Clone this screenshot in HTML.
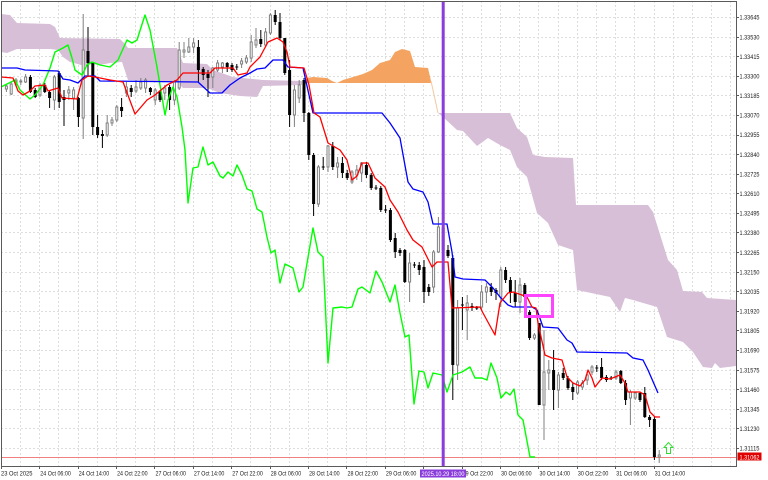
<!DOCTYPE html>
<html><head><meta charset="utf-8"><style>html,body{margin:0;padding:0;background:#fff;overflow:hidden}svg{display:block}text{font-family:"Liberation Sans",sans-serif;font-size:6px;fill:#1a1a1a}</style></head>
<body>
<svg width="768" height="480" viewBox="0 0 768 480" xmlns="http://www.w3.org/2000/svg">
<rect width="768" height="480" fill="#fff"/>
<!-- grid -->
<path fill="none" stroke="#dedede" stroke-width="1" stroke-dasharray="2 2" d="M1 17.5H736M1 37.5H736M1 56.5H736M1 76.5H736M1 95.5H736M1 115.5H736M1 135.5H736M1 154.5H736M1 174.5H736M1 193.5H736M1 213.5H736M1 232.5H736M1 252.5H736M1 272.5H736M1 291.5H736M1 311.5H736M1 330.5H736M1 350.5H736M1 370.5H736M1 389.5H736M1 409.5H736M1 428.5H736M1 448.5H736
M20.5 1V466M39.5 1V466M58.5 1V466M78.5 1V466M97.5 1V466M116.5 1V466M135.5 1V466M154.5 1V466M174.5 1V466M193.5 1V466M212.5 1V466M231.5 1V466M250.5 1V466M270.5 1V466M289.5 1V466M308.5 1V466M327.5 1V466M346.5 1V466M366.5 1V466M385.5 1V466M404.5 1V466M423.5 1V466M442.5 1V466M462.5 1V466M481.5 1V466M500.5 1V466M519.5 1V466M538.5 1V466M558.5 1V466M577.5 1V466M596.5 1V466M615.5 1V466M634.5 1V466M654.5 1V466M673.5 1V466M692.5 1V466M711.5 1V466M730.5 1V466"/>
<!-- clouds -->
<path fill="#d8bfd8" d="M1 14L10 15L17 23L50 24L55 27L60 38L120 39L125 44L128 48L177 48L183 63L207 64L213 70L233 77L263 80L302 81L302 85L263 86L257 97L240 96L220 93L207 88L183 88L177 82L128 80L122 62L110 63L100 65L92 64L85 66L70 62L63 57L58 50L50 49L17 49L7 53L1 52Z"/>
<path fill="#f4a460" d="M302 83L307 78L313 77L327 78L332 81L337 83L343 80L353 77L363 74L372 70L380 63L390 60L395 52L402 49L410 51L415 67L428 68L431 81L431 83Z"/>
<path fill="none" stroke="#f6c9a2" stroke-width="1" d="M431 81L438 113"/>
<path fill="#d8bfd8" d="M438 113L510 113L517 128L527 137L533 155L545 157L573 158L576 205L648 205L653 212L668 260L677 270L683 291L702 292L707 298L736 300L736 366L720 368L715 363L712 368L703 367L693 352L683 342L667 337L657 307L633 300L625 298L620 312L610 297L577 290L573 250L558 245L548 223L537 213L527 177L517 167L510 150L500 145L488 138L477 146L463 131L457 130L443 117Z"/>
<!-- current price line -->
<path stroke="#f08080" stroke-width="1" d="M1 457.5H736"/>
<!-- wicks -->
<path fill="none" stroke="#000" stroke-width="1" d="M30.4 75V93M35.2 88V98M44.8 83V93M49.6 90V108M59.2 71V108M64 90V126M78.4 97V127M88 27V77M92.8 62V135M97.6 115V138M102.4 130V148M121.6 98V117M131.2 85V97M150.4 87V95M160 90V102M169.6 85V110M198.4 40V82M203.2 67V80M208 70V97M227.2 62V72M232 63V72M236.8 64V70M260.8 30V47M275.2 10V25M280 13V40M284.8 38V75M289.6 60V127M304 78V122M308.8 112V160M313.6 153V216M323.2 157V170M332.8 142V170M342.4 157V178M347.2 170V180M366.4 162V178M371.2 173V190M376 185V190M380.8 186V212M385.6 205V213M390.4 208V242M395.2 233V258M400 248V256M404.8 249V283M414.4 262V268M419.2 262V275M424 260V303M428.8 284V296M448 245V258M452.8 255V400M462.4 297V330M472 303V311M476.8 306V310M491.2 283V296M496 288V300M505.6 267V283M510.4 277V303M515.2 280V307M524.8 283V300M529.6 310V340M539.2 323V405M553.6 350V410M563.2 368V380M568 376V390M572.8 383V400M596.8 365V372M601.6 358V380M606.4 375V382M611.2 376V380M620.8 370V384M625.6 380V405M640 392V402M644.8 387V418M649.6 415V427M654.4 417V460"/>
<path fill="none" stroke="#808080" stroke-width="1" d="M6.4 84V92M11.2 82V95M16 78V86M20.8 79V85M25.6 74V83M40 83V97M54.4 75V110M68.8 86V100M73.6 87V110M83.2 14V139M107.2 115V137M112 117V126M116.8 105V122M126.4 82V97M136 80V93M140.8 78V90M145.6 78V93M155.2 88V105M164.8 85V100M174.4 80V105M179.2 42V90M184 42V58M188.8 38V53M193.6 38V53M212.8 67V88M217.6 60V72M222.4 62V73M241.6 58V68M246.4 55V64M251.2 35V62M256 28V48M265.6 28V47M270.4 13V35M294.4 85V127M299.2 80V103M318.4 165V207M328 145V172M337.6 157V178M352 170V184M356.8 165V180M361.6 162V182M409.6 253V302M433.6 250V293M438.4 217V253M443.2 225V252M457.6 300V380M467.2 295V340M481.6 285V310M486.4 283V303M500.8 267V307M520 278V313M534.4 333V340M544 330V440M548.8 360V390M558.4 372V408M577.6 380V395M582.4 380V390M587.2 372V385M592 365V375M616 370V380M630.4 390V425M635.2 392V400M659.2 450V463"/>
<!-- black bodies -->
<path fill="#000" d="M28.9 77h3V92h-3zM33.7 90h3V97h-3zM43.3 85h3V92h-3zM48.1 92h3V98h-3zM57.7 73h3V102h-3zM62.5 97h3V100h-3zM76.9 98h3V117h-3zM86.5 51h3V63h-3zM91.3 63h3V127h-3zM96.1 127h3V135h-3zM100.9 134h3V136h-3zM120.1 107h3V111h-3zM129.7 88h3V92h-3zM148.9 88h3V92h-3zM158.5 92h3V100h-3zM168.1 87h3V100h-3zM196.9 47h3V70h-3zM201.7 69h3V75h-3zM206.5 74h3V78h-3zM225.7 63h3V67h-3zM230.5 65h3V70h-3zM235.3 66.5h3V67.5h-3zM259.3 39h3V44h-3zM273.7 15h3V22h-3zM278.5 22h3V38h-3zM283.3 38h3V73h-3zM288.1 70h3V115h-3zM302.5 80h3V113h-3zM307.3 113h3V155h-3zM312.1 155h3V204h-3zM321.7 166.5h3V167.5h-3zM331.3 146h3V167h-3zM340.9 163h3V173h-3zM345.7 173h3V178h-3zM364.9 165h3V175h-3zM369.7 175h3V188h-3zM374.5 187.5h3V188.5h-3zM379.3 188h3V210h-3zM384.1 209.5h3V210.5h-3zM388.9 210h3V240h-3zM393.7 238h3V252h-3zM398.5 250h3V253h-3zM403.3 250h3V282h-3zM412.9 264.5h3V265.5h-3zM417.7 265h3V270h-3zM422.5 267h3V292h-3zM427.3 287h3V292h-3zM446.5 250h3V256h-3zM451.3 258h3V365h-3zM460.9 304.5h3V305.5h-3zM470.5 306h3V308h-3zM475.3 307.5h3V308.5h-3zM489.7 287h3V292h-3zM494.5 290h3V293h-3zM504.1 270h3V280h-3zM508.9 280h3V293h-3zM513.7 293h3V302h-3zM523.3 285h3V297h-3zM528.1 312h3V338h-3zM537.7 323h3V405h-3zM552.1 370h3V390h-3zM561.7 373h3V378h-3zM566.5 378h3V388h-3zM571.3 387h3V392h-3zM595.3 367.5h3V368.5h-3zM600.1 367h3V378h-3zM604.9 377h3V380h-3zM609.7 377.5h3V378.5h-3zM619.3 371h3V383h-3zM624.1 383h3V400h-3zM638.5 393h3V400h-3zM643.3 393h3V417h-3zM648.1 417h3V420h-3zM652.9 419h3V457h-3z"/>
<!-- white bodies -->
<path fill="#fff" stroke="#808080" stroke-width="1" d="M5.4 86h2V89h-2zM10.2 84h2V94h-2zM15 80h2V83h-2zM19.8 81h2V82h-2zM24.6 77h2V82h-2zM39 85h2V95h-2zM53.4 77h2V100h-2zM67.8 90h2V93h-2zM72.6 90h2V98h-2zM82.2 50h2V118h-2zM106.2 123h2V135h-2zM111 120h2V123h-2zM115.8 107h2V120h-2zM125.4 87h2V93h-2zM135 87h2V91h-2zM139.8 82h2V88h-2zM144.6 80h2V88h-2zM154.2 90h2V100h-2zM163.8 88h2V93h-2zM173.4 82h2V100h-2zM178.2 50h2V88h-2zM183 50h2V52h-2zM187.8 47h2V52h-2zM192.6 43h2V47h-2zM211.8 68h2V77h-2zM216.6 63h2V70h-2zM221.4 63h2V67h-2zM240.6 61h2V64h-2zM245.4 58h2V62h-2zM250.2 42h2V58h-2zM255 40h2V45h-2zM264.6 32h2V45h-2zM269.4 15h2V33h-2zM293.4 90h2V115h-2zM298.2 85h2V98h-2zM317.4 167h2V204h-2zM327 146h2V167h-2zM336.6 163h2V167h-2zM351 172h2V182h-2zM355.8 170h2V175h-2zM360.6 163h2V173h-2zM408.6 263h2V282h-2zM432.6 252h2V287h-2zM437.4 227h2V252h-2zM442.2 228h2V250h-2zM456.6 308h2V365h-2zM466.2 303h2V310h-2zM480.6 292h2V307h-2zM485.4 287h2V292h-2zM499.8 270h2V297h-2zM519 285h2V302h-2zM533.4 335h2V338h-2zM543 372h2V405h-2zM547.8 370h2V373h-2zM557.4 375h2V390h-2zM576.6 382h2V393h-2zM581.4 383h2V387h-2zM586.2 375h2V380h-2zM591 367h2V372h-2zM615 372h2V378h-2zM629.4 392h2V398h-2zM634.2 393h2V398h-2zM658.2 455h2V457h-2z"/>
<!-- ichimoku lines -->
<polyline fill="none" stroke="#00ff00" stroke-width="1.4" stroke-linejoin="round" points="1,87 15,80 20,90 30,99 35,95 43,85 50,68 55,52 63,48 68,45 72,58 75,70 82,75 87,65 92,62 100,65 110,67 118,60 127,40 132,43 137,40 145,15 150,30 157,67 163,103 165,115 168,100 173,87 177,97 182,127 185,150 188,203 193,168 198,167 203,147 208,165 213,162 220,176 223,178 228,172 233,176 237,165 242,175 247,189 252,191 257,209 262,212 267,237 271,253 275,250 280,283 285,264 293,268 299,292 303,287 313,228 318,252 323,257 328,363 333,308 342,307 347,308 352,307 358,289 362,287 370,293 376,271 382,282 390,302 395,285 400,313 405,337 409,335 414,404 419,371 424,372 428,388 433,373 442,375 447,392 453,375 462,372 470,367 475,378 482,378 487,380 491,363 497,378 501,398 506,392 510,395 514,389 518,415 523,420 530,457 535,457"/>
<polyline fill="none" stroke="#0000ff" stroke-width="1.3" stroke-linejoin="round" points="1,68 17,68 25,70 58,71 63,79 70,80 78,83 85,76 95,76 100,81 198,82 210,93 222,93 230,85 240,78 250,73 257,69 265,68 273,60 283,60 288,67 303,68 313,113 382,113 390,123 400,138 408,182 413,189 423,192 428,202 433,224 447,224 452,252 455,277 463,279 485,280 493,288 500,297 508,305 513,307 532,307 537,310 543,327 558,328 567,340 572,343 577,352 627,353 633,358 643,360 648,370 658,393"/>
<polyline fill="none" stroke="#ff0000" stroke-width="1.3" stroke-linejoin="round" points="1,77 13,78 18,91 23,95 30,91 35,86 45,85 48,91 58,88 62,98 77,99 82,80 88,76 95,77 110,80 123,82 135,114 147,100 155,95 167,85 177,80 183,73 210,73 215,68 233,68 238,75 247,73 250,67 260,57 268,42 277,38 283,42 287,52 290,67 304,68 309,85 314,113 320,117 328,143 340,150 347,160 352,180 357,176 362,163 368,163 375,178 385,187 390,200 398,212 407,230 413,240 422,247 427,257 432,267 437,262 448,262 452,308 480,307 483,313 495,335 500,303 508,293 513,292 522,295 527,297 532,307 536,308 538,323 545,355 552,358 562,360 567,377 573,383 580,386 585,380 588,370 592,378 595,387 602,378 610,379 620,375 625,383 628,392 640,392 645,395 650,412 655,417 660,417"/>
<!-- vertical line -->
<rect x="441.7" y="1" width="3" height="466" fill="#8a3ddb"/>
<!-- magenta box -->
<rect x="525.5" y="295.5" width="27" height="21" fill="none" stroke="#ff44ff" stroke-width="3"/>
<!-- arrow -->
<path fill="#fff" stroke="#33dd33" stroke-width="1" d="M668.5 442.5L664 447.5H666.5V453.5H670.5V447.5H673Z"/>
<!-- frame -->
<path fill="none" stroke="#5a5a5a" stroke-width="1" d="M1.5 1.5H736.5V466.5H1.5Z"/>
<!-- ticks -->
<path stroke="#5a5a5a" stroke-width="1" d="M736 17.5h3M736 37.5h3M736 56.5h3M736 76.5h3M736 95.5h3M736 115.5h3M736 135.5h3M736 154.5h3M736 174.5h3M736 193.5h3M736 213.5h3M736 232.5h3M736 252.5h3M736 272.5h3M736 291.5h3M736 311.5h3M736 330.5h3M736 350.5h3M736 370.5h3M736 389.5h3M736 409.5h3M736 428.5h3M736 448.5h3
M1.5 466v3M39.5 466v3M78.5 466v3M116.5 466v3M154.5 466v3M193.5 466v3M231.5 466v3M270.5 466v3M308.5 466v3M346.5 466v3M385.5 466v3M423.5 466v3M462.5 466v3M500.5 466v3M538.5 466v3M577.5 466v3M615.5 466v3M654.5 466v3"/>
<!-- price labels -->
<text x="739.5" y="19.7" textLength="20" lengthAdjust="spacingAndGlyphs">1.33645</text>
<text x="739.5" y="39.3" textLength="20" lengthAdjust="spacingAndGlyphs">1.33530</text>
<text x="739.5" y="58.9" textLength="20" lengthAdjust="spacingAndGlyphs">1.33415</text>
<text x="739.5" y="78.5" textLength="20" lengthAdjust="spacingAndGlyphs">1.33300</text>
<text x="739.5" y="98.1" textLength="20" lengthAdjust="spacingAndGlyphs">1.33185</text>
<text x="739.5" y="117.7" textLength="20" lengthAdjust="spacingAndGlyphs">1.33070</text>
<text x="739.5" y="137.2" textLength="20" lengthAdjust="spacingAndGlyphs">1.32955</text>
<text x="739.5" y="156.8" textLength="20" lengthAdjust="spacingAndGlyphs">1.32840</text>
<text x="739.5" y="176.4" textLength="20" lengthAdjust="spacingAndGlyphs">1.32725</text>
<text x="739.5" y="196" textLength="20" lengthAdjust="spacingAndGlyphs">1.32610</text>
<text x="739.5" y="215.6" textLength="20" lengthAdjust="spacingAndGlyphs">1.32495</text>
<text x="739.5" y="235.2" textLength="20" lengthAdjust="spacingAndGlyphs">1.32380</text>
<text x="739.5" y="254.8" textLength="20" lengthAdjust="spacingAndGlyphs">1.32265</text>
<text x="739.5" y="274.4" textLength="20" lengthAdjust="spacingAndGlyphs">1.32150</text>
<text x="739.5" y="294" textLength="20" lengthAdjust="spacingAndGlyphs">1.32035</text>
<text x="739.5" y="313.6" textLength="20" lengthAdjust="spacingAndGlyphs">1.31920</text>
<text x="739.5" y="333.1" textLength="20" lengthAdjust="spacingAndGlyphs">1.31805</text>
<text x="739.5" y="352.7" textLength="20" lengthAdjust="spacingAndGlyphs">1.31690</text>
<text x="739.5" y="372.3" textLength="20" lengthAdjust="spacingAndGlyphs">1.31575</text>
<text x="739.5" y="391.9" textLength="20" lengthAdjust="spacingAndGlyphs">1.31460</text>
<text x="739.5" y="411.5" textLength="20" lengthAdjust="spacingAndGlyphs">1.31345</text>
<text x="739.5" y="431.1" textLength="20" lengthAdjust="spacingAndGlyphs">1.31230</text>
<text x="739.5" y="450.7" textLength="20" lengthAdjust="spacingAndGlyphs">1.31115</text>
<rect x="737.5" y="452.5" width="24" height="8" fill="#e00000"/>
<text x="739.5" y="459.3" textLength="20" lengthAdjust="spacingAndGlyphs" style="fill:#fff">1.31062</text>
<!-- time labels -->
<text x="1" y="475.5" textLength="31.5" lengthAdjust="spacingAndGlyphs">23 Oct 2025</text>
<text x="40.3" y="475.5" textLength="30.5" lengthAdjust="spacingAndGlyphs">24 Oct 06:00</text>
<text x="78.7" y="475.5" textLength="30.5" lengthAdjust="spacingAndGlyphs">24 Oct 14:00</text>
<text x="117.1" y="475.5" textLength="30.5" lengthAdjust="spacingAndGlyphs">24 Oct 22:00</text>
<text x="155.5" y="475.5" textLength="30.5" lengthAdjust="spacingAndGlyphs">27 Oct 06:00</text>
<text x="193.9" y="475.5" textLength="30.5" lengthAdjust="spacingAndGlyphs">27 Oct 14:00</text>
<text x="232.3" y="475.5" textLength="30.5" lengthAdjust="spacingAndGlyphs">27 Oct 22:00</text>
<text x="270.7" y="475.5" textLength="30.5" lengthAdjust="spacingAndGlyphs">28 Oct 06:00</text>
<text x="309.1" y="475.5" textLength="30.5" lengthAdjust="spacingAndGlyphs">28 Oct 14:00</text>
<text x="347.5" y="475.5" textLength="30.5" lengthAdjust="spacingAndGlyphs">28 Oct 22:00</text>
<text x="385.9" y="475.5" textLength="30.5" lengthAdjust="spacingAndGlyphs">29 Oct 06:00</text>
<text x="462.7" y="475.5" textLength="30.5" lengthAdjust="spacingAndGlyphs">29 Oct 22:00</text>
<text x="501.1" y="475.5" textLength="30.5" lengthAdjust="spacingAndGlyphs">30 Oct 06:00</text>
<text x="539.5" y="475.5" textLength="30.5" lengthAdjust="spacingAndGlyphs">30 Oct 14:00</text>
<text x="577.9" y="475.5" textLength="30.5" lengthAdjust="spacingAndGlyphs">30 Oct 22:00</text>
<text x="616.3" y="475.5" textLength="30.5" lengthAdjust="spacingAndGlyphs">31 Oct 06:00</text>
<text x="654.7" y="475.5" textLength="30.5" lengthAdjust="spacingAndGlyphs">31 Oct 14:00</text>
<rect x="420" y="469.5" width="46" height="8" fill="#8a3ddb"/>
<text x="421.5" y="475.8" textLength="43" lengthAdjust="spacingAndGlyphs" style="fill:#fff">2025.10.29 18:00</text>
</svg>
</body></html>
